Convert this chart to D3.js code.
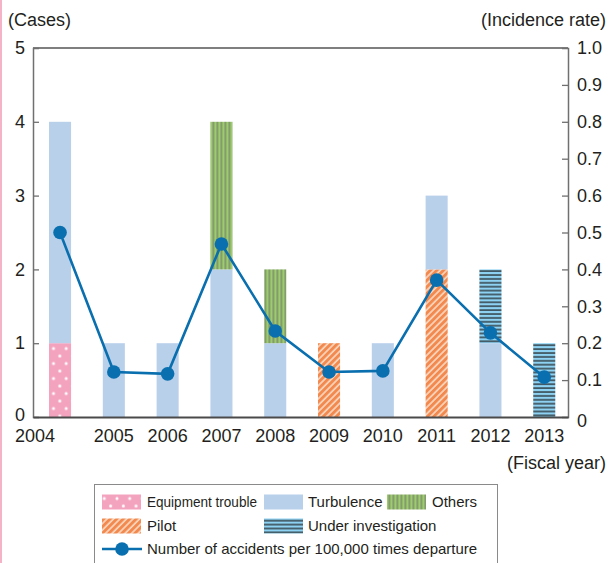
<!DOCTYPE html>
<html>
<head>
<meta charset="utf-8">
<script src="https://cdn.jsdelivr.net/npm/d3@7"></script>
<style>
  html, body { margin: 0; padding: 0; background: #fff; }
  svg { display: block; }
  text { font-family: "Liberation Sans", Arial, Helvetica, sans-serif; fill: #231f20; }
</style>
</head>
<body>
<script>
// Fiscal years on the x axis
const years = ["2004", "2005", "2006", "2007", "2008", "2009", "2010", "2011", "2012", "2013"];

// Number of cases by cause (stacked bars, left axis)
const equipmentTrouble   = [1, 0, 0, 0, 0, 0, 0, 0, 0, 0];
const pilot              = [0, 0, 0, 0, 0, 1, 0, 2, 0, 0];
const turbulence         = [3, 1, 1, 2, 1, 0, 1, 1, 1, 0];
const others             = [0, 0, 0, 2, 1, 0, 0, 0, 0, 0];
const underInvestigation = [0, 0, 0, 0, 0, 0, 0, 0, 1, 1];

// Accidents per 100,000 departures (line, right axis)
const incidenceRate = [0.50, 0.122, 0.117, 0.469, 0.233, 0.122, 0.125, 0.371, 0.228, 0.108];

// Tick values
const caseTicks = [0, 1, 2, 3, 4, 5];
const rateTicks = [0, 0.1, 0.2, 0.3, 0.4, 0.5, 0.6, 0.7, 0.8, 0.9, 1.0];

const W = 613, H = 563;
const plot = { left: 33, right: 568, top: 48, bottom: 417 };

const svg = d3.select("body").append("svg").attr("width", W).attr("height", H);

// pink edge strip on the left of the page
svg.append("rect").attr("x", 0).attr("y", 0).attr("width", 2).attr("height", H).attr("fill", "#f5b3c8");

const x = d3.scaleBand().domain(years).range([plot.left, plot.right])
  .paddingInner(0.59).paddingOuter(0.267).align(0.557);
const yCases = d3.scaleLinear().domain([0, 5]).range([plot.bottom, plot.top]);
const yRate = d3.scaleLinear().domain([0, 1]).range([plot.bottom, plot.top]);

// ---- fill patterns ----
const defs = svg.append("defs");

const dots = defs.append("pattern").attr("id", "pat-equipment")
  .attr("patternUnits", "userSpaceOnUse").attr("width", 12.7).attr("height", 15)
  .attr("x", x("2004") + 4.5).attr("y", 3.5);
dots.append("rect").attr("width", 12.7).attr("height", 15).attr("fill", "#f4a3bf");
[[0, 0], [12.7, 0], [0, 15], [12.7, 15], [6.35, 7.5]].forEach(([cx, cy]) =>
  dots.append("circle").attr("cx", cx).attr("cy", cy).attr("r", 1.5).attr("fill", "#fff"));

const diag = defs.append("pattern").attr("id", "pat-pilot")
  .attr("patternUnits", "userSpaceOnUse").attr("width", 4.6).attr("height", 10)
  .attr("patternTransform", "rotate(45)");
diag.append("rect").attr("width", 4.6).attr("height", 10).attr("fill", "#f28a4f");
diag.append("line").attr("x1", 1).attr("x2", 1).attr("y1", 0).attr("y2", 10)
  .attr("stroke", "#fde6d6").attr("stroke-width", 1.4);

const vert = defs.append("pattern").attr("id", "pat-others")
  .attr("patternUnits", "userSpaceOnUse").attr("width", 4).attr("height", 10)
  .attr("x", x("2007") + 1);
vert.append("rect").attr("width", 4).attr("height", 10).attr("fill", "#9ccc6c");
vert.append("line").attr("x1", 2).attr("x2", 2).attr("y1", 0).attr("y2", 10)
  .attr("stroke", "#6a6a72").attr("stroke-width", 1);

const horiz = defs.append("pattern").attr("id", "pat-investigation")
  .attr("patternUnits", "userSpaceOnUse").attr("width", 10).attr("height", 3.9);
horiz.append("rect").attr("width", 10).attr("height", 3.9).attr("fill", "#8ed2f3");
horiz.append("line").attr("x1", 0).attr("x2", 10).attr("y1", 2).attr("y2", 2)
  .attr("stroke", "#1a1a1a").attr("stroke-width", 1.2);

const fills = {
  equipment: "url(#pat-equipment)",
  pilot: "url(#pat-pilot)",
  turbulence: "#b9d0eb",
  others: "url(#pat-others)",
  investigation: "url(#pat-investigation)"
};

// ---- stacked bars ----
const rows = years.map((yr, i) => ({
  year: yr,
  equipment: equipmentTrouble[i],
  pilot: pilot[i],
  turbulence: turbulence[i],
  others: others[i],
  investigation: underInvestigation[i]
}));
const keys = ["equipment", "pilot", "turbulence", "others", "investigation"];
const series = d3.stack().keys(keys)(rows);

svg.append("g").selectAll("g").data(series).join("g")
  .attr("fill", d => fills[d.key])
  .selectAll("rect").data(d => d.filter(s => s[1] > s[0])).join("rect")
  .attr("x", d => x(d.data.year))
  .attr("width", x.bandwidth())
  .attr("y", d => yCases(d[1]))
  .attr("height", d => yCases(d[0]) - yCases(d[1]));

// ---- frame and axes ----
const axisColor = "#707070";
svg.append("line").attr("x1", plot.left).attr("x2", plot.right).attr("y1", plot.top).attr("y2", plot.top)
  .attr("stroke", "#555").attr("stroke-width", 1.3);

const leftAxis = svg.append("g").attr("transform", `translate(${plot.left},0)`)
  .call(d3.axisLeft(yCases).tickValues(caseTicks).tickSize(-6).tickPadding(8).tickFormat(d3.format("d")));
const rightAxis = svg.append("g").attr("transform", `translate(${plot.right},0)`)
  .call(d3.axisRight(yRate).tickValues(rateTicks).tickSize(-6).tickPadding(9)
    .tickFormat(d => d === 0 ? "0" : d3.format(".1f")(d)));
[leftAxis, rightAxis].forEach(g => {
  g.select(".domain").attr("stroke", axisColor).attr("stroke-width", 1.5);
  g.selectAll(".tick line").attr("stroke", axisColor).attr("stroke-width", 1.3);
  g.selectAll(".tick text").attr("font-size", 18).attr("fill", "#231f20")
    .style("font-family", '"Liberation Sans", Arial, sans-serif');
});
leftAxis.selectAll(".tick").filter(d => d === 0 || d === 5).select("line").remove();
rightAxis.selectAll(".tick").filter(d => d === 0 || d === 1).select("line").remove();
leftAxis.selectAll(".tick").filter(d => d === 0).select("text").attr("dy", "0.2em");
rightAxis.selectAll(".tick").filter(d => d === 0).select("text").attr("dy", "0.5em");

const bottomAxis = svg.append("g").attr("transform", `translate(0,${plot.bottom})`)
  .call(d3.axisBottom(x).tickSize(0).tickPadding(12));
bottomAxis.select(".domain").attr("stroke", "#4a4a4a").attr("stroke-width", 2.2);
bottomAxis.selectAll(".tick text").attr("font-size", 18).attr("fill", "#231f20")
  .style("font-family", '"Liberation Sans", Arial, sans-serif');
// first year label sits at the axis origin, below the "0"
bottomAxis.selectAll(".tick").filter(d => d === "2004").select("text")
  .attr("x", plot.left - x("2004") - x.bandwidth() / 2 - 18).attr("text-anchor", "start");

// ---- line: incidence rate ----
const linePts = years.map((yr, i) => [x(yr) + x.bandwidth() / 2, yRate(incidenceRate[i])]);
svg.append("path").attr("d", d3.line()(linePts))
  .attr("fill", "none").attr("stroke", "#0a6fae").attr("stroke-width", 2.6);
svg.append("g").selectAll("circle").data(linePts).join("circle")
  .attr("cx", d => d[0]).attr("cy", d => d[1]).attr("r", 6.8).attr("fill", "#0a6fae");

// ---- axis titles ----
svg.append("text").attr("x", 8).attr("y", 26).attr("font-size", 18).text("(Cases)");
svg.append("text").attr("x", 606).attr("y", 26).attr("font-size", 18).attr("text-anchor", "end").text("(Incidence rate)");
svg.append("text").attr("x", 606).attr("y", 469).attr("font-size", 18).attr("text-anchor", "end").text("(Fiscal year)");

// ---- legend ----
const legend = svg.append("g");
legend.append("rect").attr("x", 94.5).attr("y", 484.5).attr("width", 403).attr("height", 80)
  .attr("fill", "#fff").attr("stroke", "#8a8a8a").attr("stroke-width", 1);

const legendItems = [
  { key: "equipment", label: "Equipment trouble", sx: 102, tx: 147, y: 502, len: 110 },
  { key: "turbulence", label: "Turbulence", sx: 264, tx: 308, y: 502 },
  { key: "others", label: "Others", sx: 387, tx: 432, y: 502 },
  { key: "pilot", label: "Pilot", sx: 102, tx: 147, y: 526 },
  { key: "investigation", label: "Under investigation", sx: 264, tx: 308, y: 526 }
];
legendItems.forEach(it => {
  legend.append("rect").attr("x", it.sx).attr("y", it.y - 7.5).attr("width", 39).attr("height", 15)
    .attr("fill", fills[it.key]);
  const t = legend.append("text").attr("x", it.tx).attr("y", it.y).attr("dy", "0.35em")
    .attr("font-size", 15).text(it.label);
  if (it.len) t.attr("textLength", it.len).attr("lengthAdjust", "spacingAndGlyphs");
});
legend.append("line").attr("x1", 102).attr("x2", 142).attr("y1", 549).attr("y2", 549)
  .attr("stroke", "#0a6fae").attr("stroke-width", 2.6);
legend.append("circle").attr("cx", 122).attr("cy", 549).attr("r", 6.8).attr("fill", "#0a6fae");
legend.append("text").attr("x", 147).attr("y", 549).attr("dy", "0.35em").attr("font-size", 15)
  .text("Number of accidents per 100,000 times departure");
</script>
</body>
</html>
